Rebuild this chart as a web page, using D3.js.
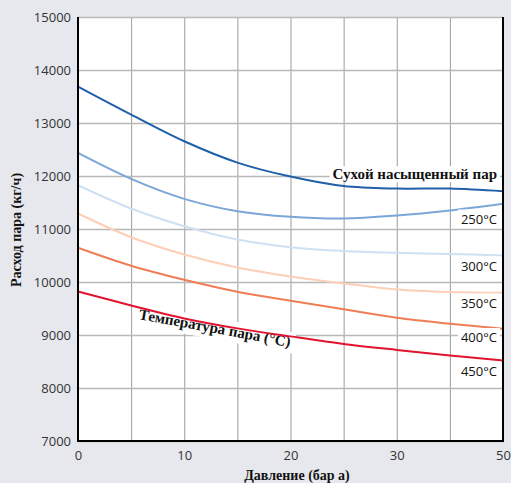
<!DOCTYPE html>
<html><head><meta charset="utf-8">
<script src="https://cdn.jsdelivr.net/npm/d3@7"></script>
<style>html,body{margin:0;padding:0;background:#e6e8ed;}svg{display:block;}</style>
</head><body>
<svg id="c" width="511" height="483"></svg>
<script>
// pressure positions (chart units) and tick labels
const pressure = [0, 5, 10, 15, 20, 25, 30, 35, 40];
const xTickValues = [0, 10, 20, 30, 40];
const xTickLabels = ["0", "10", "20", "30", "50"];
const yTickValues = [7000, 8000, 9000, 10000, 11000, 12000, 13000, 14000, 15000];

const seriesNames = ["Сухой насыщенный пар", "250°C", "300°C", "350°C", "400°C", "450°C"];
const saturated = [13686, 13158, 12655, 12253, 11989, 11810, 11763, 11763, 11713];
const t250 = [12436, 11946, 11569, 11336, 11230, 11198, 11254, 11349, 11475];
const t300 = [11826, 11386, 11053, 10802, 10657, 10585, 10551, 10529, 10500];
const t350 = [11292, 10845, 10519, 10274, 10104, 9972, 9859, 9812, 9797];
const t400 = [10645, 10306, 10042, 9816, 9646, 9486, 9325, 9212, 9118];
const t450 = [9822, 9558, 9313, 9125, 8974, 8832, 8719, 8615, 8520];
const seriesColors = ["#2060a8", "#7aa6d8", "#cfe0f3", "#fccfb6", "#ef7d55", "#e2132e"];
const seriesValues = [saturated, t250, t300, t350, t400, t450];

const svg = d3.select("#c");
const L = 78, R = 503, T = 17, B = 441;
const x = d3.scaleLinear().domain([0, 40]).range([L, R]);
const y = d3.scaleLinear().domain([7000, 15000]).range([B, T]);

svg.append("rect").attr("x", L).attr("y", T).attr("width", R - L).attr("height", B - T).attr("fill", "#fff");

// grid
const gx = svg.append("g").attr("transform", `translate(0,${B})`)
  .call(d3.axisBottom(x).tickValues(d3.range(0, 41, 5)).tickSize(-(B - T)).tickFormat(""));
gx.select(".domain").remove();
gx.selectAll("line").attr("stroke", "#9c9c9c").attr("stroke-width", 1);
const gy = svg.append("g").attr("transform", `translate(${L},0)`)
  .call(d3.axisLeft(y).tickValues(yTickValues).tickSize(-(R - L)).tickFormat(""));
gy.select(".domain").remove();
gy.selectAll("line").attr("stroke", "#b8b8b8").attr("stroke-width", 1.6);

// rotated curve label background + text (drawn before lines)
const rg = svg.append("g").attr("transform", "translate(214,333) rotate(10.5)");
const rt = rg.append("text").attr("text-anchor", "middle").attr("font-family", "Liberation Serif")
  .attr("font-size", 15).attr("font-weight", "bold").attr("fill", "#111").text("Температура пара (°C)");
const rb = rt.node().getBBox();
rg.insert("rect", "text").attr("x", rb.x - 4).attr("y", rb.y - 2).attr("width", rb.width + 8)
  .attr("height", rb.height + 4).attr("fill", "#fff");

// lines
const line = d3.line().x((d, i) => x(pressure[i])).y(d => y(d)).curve(d3.curveCatmullRom);
seriesValues.forEach((vals, k) => {
  svg.append("path").datum(vals).attr("d", line).attr("fill", "none")
    .attr("stroke", seriesColors[k]).attr("stroke-width", 2);
});

// border
svg.append("path").attr("d", `M${L},${T}V${B}H${R}V${T}`).attr("fill", "none").attr("stroke", "#000").attr("stroke-width", 2);

// tick labels
const xa = svg.append("g").attr("transform", `translate(0,${B})`)
  .call(d3.axisBottom(x).tickValues(xTickValues).tickSize(0).tickPadding(10).tickFormat((d, i) => xTickLabels[i]));
xa.select(".domain").remove();
xa.selectAll("text").attr("font-family", "Open Sans").attr("font-size", 13).attr("fill", "#333");
const ya = svg.append("g").attr("transform", `translate(${L},0)`)
  .call(d3.axisLeft(y).tickValues(yTickValues).tickSize(0).tickPadding(7).tickFormat(d3.format("d")));
ya.select(".domain").remove();
ya.selectAll("text").attr("font-family", "Open Sans").attr("font-size", 13).attr("fill", "#333");

// labels with white background
function boxedLabel(txt, xr, yc, font, size, weight) {
  const g = svg.append("g");
  const t = g.append("text").attr("x", xr).attr("y", yc).attr("dy", "0.35em")
    .attr("text-anchor", "end").attr("font-family", font).attr("font-size", size)
    .attr("font-weight", weight).attr("fill", "#111").text(txt);
  const bb = t.node().getBBox();
  g.insert("rect", "text").attr("x", bb.x - 3).attr("y", bb.y).attr("width", bb.width + 6)
    .attr("height", bb.height).attr("fill", "#fff");
}
boxedLabel(seriesNames[0], 497, 174, "Liberation Serif", 15, "bold");
const tempLabelY = [219, 266, 303, 337.5, 371];
seriesNames.slice(1).forEach((n, i) => boxedLabel(n, 497, tempLabelY[i], "Open Sans", 13, "normal"));

// axis titles
svg.append("text").attr("transform", "translate(21,230) rotate(-90)").attr("text-anchor", "middle")
  .attr("font-family", "Liberation Serif").attr("font-size", 14).attr("font-weight", "bold")
  .attr("fill", "#111").text("Расход пара (кг/ч)");
svg.append("text").attr("x", 297).attr("y", 480).attr("text-anchor", "middle")
  .attr("font-family", "Liberation Serif").attr("font-size", 14).attr("font-weight", "bold")
  .attr("fill", "#111").text("Давление (бар а)");
</script>
</body></html>
